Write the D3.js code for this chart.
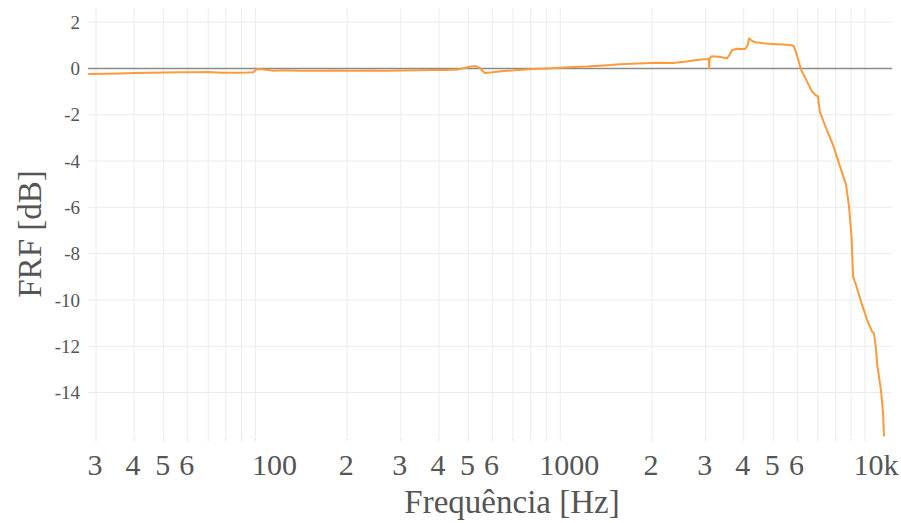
<!DOCTYPE html>
<html><head><meta charset="utf-8">
<script src="https://cdn.jsdelivr.net/npm/d3@7"></script>
<style>body{margin:0;background:#fff}svg{display:block}</style>
</head><body>
<svg id="c" width="901" height="523"></svg>
<script>
const freq = [28.3,32,36,40,45,50,56,63,70,78,86,94,98.5,101,104,110,115,125,140,160,180,205,240,270,300,340,380,420,460,490,510,526,545,560,568,600,640,670,750,820,906,1000,1100,1226,1426,1573,1800,2080,2346,2600,2800,3034,3070,3080,3092,3150,3300,3528,3600,3664,3800,4044,4120,4167,4250,4357,4700,4992,5400,5765,5850,6000,6166,6456,6700,6905,7000,7116,7568,7852,8280,8665,8860,9030,9140,9380,9740,10155,10545,10700,10865,10950,11280,11460,11540];
const frf = [-0.24,-0.23,-0.22,-0.2,-0.19,-0.18,-0.17,-0.16,-0.15,-0.19,-0.19,-0.18,-0.16,-0.04,-0.03,-0.07,-0.1,-0.08,-0.1,-0.1,-0.09,-0.1,-0.09,-0.1,-0.09,-0.08,-0.07,-0.07,-0.05,0.03,0.08,0.1,0.02,-0.15,-0.2,-0.17,-0.12,-0.1,-0.06,-0.03,0.0,0.03,0.06,0.08,0.14,0.18,0.21,0.25,0.23,0.3,0.36,0.41,0.42,0.0,0.45,0.53,0.5,0.44,0.6,0.8,0.85,0.84,1.0,1.3,1.2,1.13,1.08,1.06,1.03,1.0,0.94,0.5,-0.05,-0.57,-1.0,-1.17,-1.2,-1.9,-2.8,-3.3,-4.24,-5.03,-5.97,-7.27,-9.0,-9.43,-10.14,-10.86,-11.37,-11.44,-12.09,-12.74,-13.9,-14.9,-15.9];
const yTicks = [2,0,-2,-4,-6,-8,-10,-12,-14];
const xTickVals = [30,40,50,60,100,200,300,400,500,600,1000,2000,3000,4000,5000,6000,10000];
const xTickText = ["3","4","5","6","100","2","3","4","5","6","1000","2","3","4","5","6","10k"];
const xDomain = [28.24, 12260];
const yDomain = [-15.92, 2.61];

const svg = d3.select("#c");
const L = 88, R = 892, T = 8, B = 437;
const x = d3.scaleLog().domain(xDomain).range([L, R]);
const y = d3.scaleLinear().domain(yDomain).range([B, T]);
// label nudges seen in the reference for the decade labels
const labelShift = v => (v === 100 ? 19 : v === 1000 ? 9 : v === 10000 ? 11 : -1);

const grid = [];
for (let e = 1; e <= 4; e++) for (let m = 1; m <= 9; m++) { const v = m * Math.pow(10, e); if (v >= xDomain[0] && v <= xDomain[1]) grid.push(v); }
svg.append("g").selectAll("line").data(grid).join("line")
  .attr("x1", d => x(d)).attr("x2", d => x(d)).attr("y1", T).attr("y2", B)
  .attr("stroke", "#ececec").attr("stroke-width", 1);
svg.append("g").selectAll("line").data(grid).join("line")
  .attr("x1", d => x(d)).attr("x2", d => x(d)).attr("y1", B + 1).attr("y2", B + 4)
  .attr("stroke", "#e0e0e0").attr("stroke-width", 1);
svg.append("g").selectAll("line").data(yTicks.filter(d => d !== 0)).join("line")
  .attr("x1", L).attr("x2", R).attr("y1", d => y(d)).attr("y2", d => y(d))
  .attr("stroke", "#ececec").attr("stroke-width", 1);

svg.append("line").attr("x1", L).attr("x2", R).attr("y1", y(0)).attr("y2", y(0))
  .attr("stroke", "#8a8a8a").attr("stroke-width", 1.5);

svg.append("g").selectAll("text").data(yTicks).join("text")
  .attr("x", L - 8).attr("y", d => y(d)).attr("dy", "0.35em")
  .attr("text-anchor", "end").attr("font-family", "Liberation Serif, serif")
  .attr("font-size", 19).attr("fill", "#555").text(d => d);

svg.append("g").selectAll("text").data(xTickVals).join("text")
  .attr("x", d => x(d) + labelShift(d)).attr("y", 475)
  .attr("text-anchor", "middle").attr("font-family", "Liberation Serif, serif")
  .attr("font-size", 30).attr("fill", "#555").text((d, i) => xTickText[i]);

svg.append("text").attr("x", (L + R) / 2 + 22).attr("y", 513)
  .attr("text-anchor", "middle").attr("font-family", "Liberation Serif, serif")
  .attr("font-size", 33).attr("fill", "#555").text("Frequência [Hz]");
svg.append("text").attr("transform", `translate(41,234) rotate(-90)`)
  .attr("text-anchor", "middle").attr("font-family", "Liberation Serif, serif")
  .attr("font-size", 33).attr("fill", "#555").text("FRF [dB]");

svg.append("clipPath").attr("id", "clip").append("rect")
  .attr("x", L).attr("y", T).attr("width", R - L).attr("height", B - T);
const data = freq.map((f, i) => [f, frf[i]]);
svg.append("path").datum(data).attr("clip-path", "url(#clip)")
  .attr("fill", "none").attr("stroke", "#ff9a3c").attr("stroke-width", 2)
  .attr("stroke-linejoin", "round")
  .attr("d", d3.line().x(d => x(d[0])).y(d => y(d[1])));
</script>
</body></html>
